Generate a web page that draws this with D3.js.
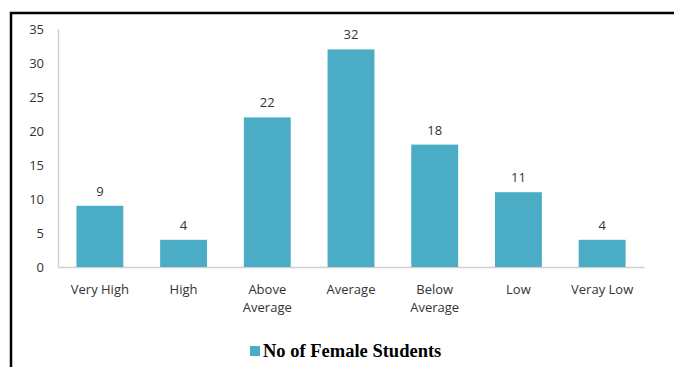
<!DOCTYPE html>
<html lang="en">
<head>
<meta charset="UTF-8">
<script src="https://d3js.org/d3.v7.min.js"></script>
<title>Female students</title>
<style>
  body { margin: 0; background: white; }
  .tick text { font-family: "Open Sans", "Liberation Sans", sans-serif; }
</style>
</head>
<body>
<div id="chart"></div>
<script>
// chart values
const categories = ["Very High", "High", "Above Average", "Average", "Below Average", "Low", "Veray Low"];
const femaleStudents = [9, 4, 22, 32, 18, 11, 4];
const yTicks = [0, 5, 10, 15, 20, 25, 30, 35];
const seriesName = "No of Female Students";

const W = 674, H = 367;
const plotLeft = 58, plotRight = 644, plotTop = 29, plotBottom = 267;
const barColor = "#4BACC6";
const labelFont = "'Open Sans', 'Liberation Sans', sans-serif";

const svg = d3.select("#chart").append("svg")
    .attr("width", W).attr("height", H);

// frame (left and top edges only, as in the picture)
svg.append("path")
    .attr("d", "M11," + H + " L11,13 L" + W + ",13")
    .attr("fill", "none").attr("stroke", "black").attr("stroke-width", 2.5);

const x = d3.scaleBand().domain(categories).range([plotLeft, plotRight]).paddingInner(0.44).paddingOuter(0.22);
const y = d3.scaleLinear().domain([0, 35]).range([plotBottom, plotTop]);

// y axis
const yAxis = svg.append("g").attr("transform", "translate(" + plotLeft + ",0)")
    .call(d3.axisLeft(y).tickValues(yTicks).tickSize(0).tickPadding(14));
yAxis.select(".domain").attr("stroke", "#d0d0d0").attr("stroke-width", 1.5);
yAxis.selectAll("text").attr("fill", "#333").style("font-size", "13px");

// x axis
const xAxis = svg.append("g").attr("transform", "translate(0," + plotBottom + ")")
    .call(d3.axisBottom(x).tickSize(0).tickFormat(""));
xAxis.select(".domain").attr("stroke", "#d0d0d0").attr("stroke-width", 1.5);
xAxis.selectAll(".tick").each(function(d) {
    const words = d.split(" ");
    const lines = words.length > 1 && d !== "Very High" && d !== "Veray Low" ? words : [d];
    const t = d3.select(this).append("text")
        .attr("fill", "#333").attr("text-anchor", "middle")
        .style("font-family", labelFont).style("font-size", "13px");
    lines.forEach(function(line, i) {
        t.append("tspan").attr("x", 0).attr("y", 27 + i * 18).text(line);
    });
});

// bars
svg.append("g").selectAll("rect")
    .data(femaleStudents)
    .join("rect")
    .attr("x", (d, i) => x(categories[i]))
    .attr("y", d => y(d))
    .attr("width", x.bandwidth())
    .attr("height", d => y(0) - y(d))
    .attr("fill", barColor);

// value labels
svg.append("g").selectAll("text")
    .data(femaleStudents)
    .join("text")
    .attr("x", (d, i) => x(categories[i]) + x.bandwidth() / 2)
    .attr("y", d => y(d) - 10)
    .attr("text-anchor", "middle")
    .attr("fill", "#333")
    .style("font-family", labelFont).style("font-size", "13px")
    .text(d => d);

// legend
const legend = svg.append("g").attr("transform", "translate(250,357)");
legend.append("rect").attr("x", 0).attr("y", -11).attr("width", 10).attr("height", 10).attr("fill", barColor);
legend.append("text").attr("x", 13).attr("y", 0)
    .style("font-family", "'Liberation Serif', 'Times New Roman', serif")
    .style("font-size", "18.5px").style("font-weight", "bold")
    .text(seriesName);
</script>
</body>
</html>
